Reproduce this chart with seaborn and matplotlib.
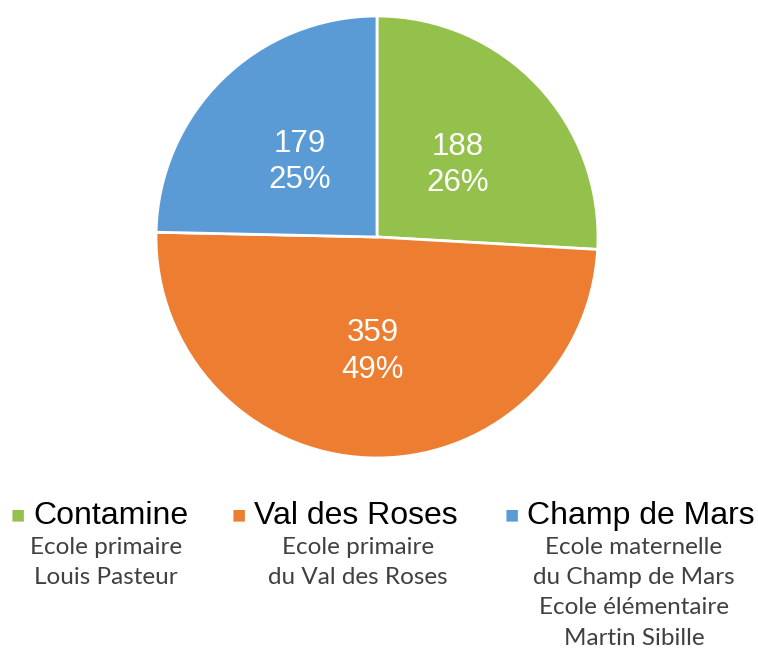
import matplotlib.pyplot as plt
import matplotlib.transforms as mtransforms
import seaborn as sns

# data
schools = ["Contamine", "Val des Roses", "Champ de Mars"]
counts = [188, 359, 179]
details = ["Ecole primaire\nLouis Pasteur",
           "Ecole primaire\ndu Val des Roses",
           "Ecole maternelle\ndu Champ de Mars\nEcole élémentaire\nMartin Sibille"]
colors = ["#94c14b", "#ed7d31", "#5b9bd5"]

sns.set_theme(style="white")
plt.rcParams['font.family'] = ['Liberation Sans', 'DejaVu Sans']

W, H = 758, 648
fig = plt.figure(figsize=(W / 100, H / 100), dpi=100)

# pie axes: centre (377, 237) px, radius 221 px
cx, cy, r = 377, 237, 221
ax = fig.add_axes([(cx - r) / W, (H - cy - r) / H, 2 * r / W, 2 * r / H])
total = sum(counts)


def fmt(pct):
    val = int(round(pct * total / 100))
    return f"{val}\n{pct:.0f}%"


wedges, _, autotexts = ax.pie(counts, colors=colors, startangle=90, counterclock=False,
                              autopct=fmt, pctdistance=0.5, radius=1,
                              wedgeprops=dict(edgecolor="white", linewidth=2))
for t in autotexts:
    t.set_color("white")
    t.set_fontsize(22.5)
    t.set_linespacing(1.27)
    # nudge down a little so the glyphs sit where the reference has them
    t.set_transform(mtransforms.offset_copy(t.get_transform(), fig=fig, x=0, y=-4, units="dots"))
ax.set_xlim(-1.0, 1.0)
ax.set_ylim(-1.0, 1.0)
ax.set_aspect("equal")
ax.axis("off")

# custom legend with subtitles
marker_x = [18, 239, 512]
label_x = [33, 254, 527]
sub_cx = [106, 358, 634]
leg_y = 516
for i, name in enumerate(schools):
    fig.text(marker_x[i] / W, 1 - leg_y / H, "■", color=colors[i], fontsize=17,
             ha="center", va="center")
    fig.text(label_x[i] / W, 1 - leg_y / H, name, color="black", fontsize=23,
             ha="left", va="center")
    fig.text(sub_cx[i] / W, 1 - 537 / H, details[i], color="#404040", fontsize=17.5,
             ha="center", va="top", linespacing=1.54, family=["Lato", "DejaVu Sans"])

fig.savefig("out.png", dpi=100, facecolor="white")
